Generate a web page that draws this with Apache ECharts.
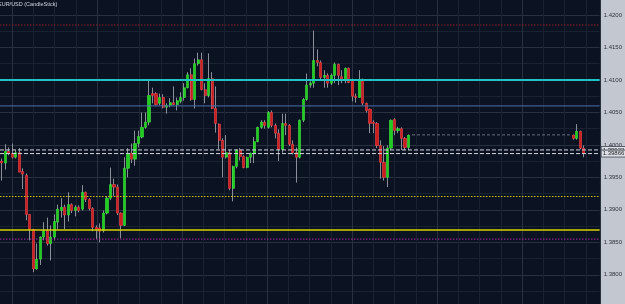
<!DOCTYPE html>
<html>
<head>
<meta charset="utf-8">
<script src="https://cdn.jsdelivr.net/npm/echarts@6/dist/echarts.min.js"></script>
<style>
  html, body { margin: 0; padding: 0; background: #0b1222; }
  #chart { width: 625px; height: 304px; }
</style>
</head>
<body>
<div id="chart"></div>
<script>
// EUR/USD bars, [open, close, low, high]
var barsBefore = [
  [1.3975,1.3972,1.3945,1.3979],[1.3972,1.3990,1.3962,1.4001],[1.3990,1.3987,1.3984,1.3996],[1.3987,1.3981,1.3979,1.4002],
  [1.3981,1.3988,1.3979,1.3992],[1.3988,1.3958,1.3958,1.3995],[1.3959,1.3955,1.3932,1.3964],[1.3953,1.3893,1.3884,1.3956],
  [1.3893,1.3870,1.3853,1.3893],[1.3870,1.3809,1.3804,1.3870],[1.3809,1.3824,1.3808,1.3848],[1.3824,1.3858,1.3815,1.3859],
  [1.3858,1.3868,1.3853,1.3881],[1.3868,1.3848,1.3845,1.3888],[1.3848,1.3858,1.3822,1.3876],[1.3858,1.3882,1.3853,1.3893],
  [1.3881,1.3901,1.3870,1.3908],[1.3899,1.3904,1.3888,1.3918],[1.3904,1.3892,1.3870,1.3908],[1.3892,1.3908,1.3882,1.3927],
  [1.3908,1.3899,1.3895,1.3910],[1.3899,1.3904,1.3890,1.3907],[1.3904,1.3899,1.3896,1.3907],[1.3901,1.3927,1.3899,1.3938],
  [1.3927,1.3916,1.3912,1.3928],[1.3916,1.3902,1.3899,1.3918],[1.3902,1.3873,1.3867,1.3904],[1.3873,1.3870,1.3855,1.3876],
  [1.3872,1.3867,1.3850,1.3879],[1.3868,1.3895,1.3865,1.3899],[1.3895,1.3918,1.3893,1.3921],[1.3918,1.3939,1.3915,1.3965],
  [1.3939,1.3935,1.3921,1.3948],[1.3935,1.3895,1.3892,1.3939],[1.3895,1.3876,1.3856,1.3896],[1.3876,1.3964,1.3875,1.3981],
  [1.3964,1.3987,1.3950,1.3995],[1.3987,1.3978,1.3972,1.4002],[1.3978,1.4002,1.3968,1.4022],[1.4002,1.4013,1.3996,1.4022],
  [1.4012,1.4027,1.4010,1.4050],[1.4027,1.4035,1.4025,1.4050],[1.4035,1.4076,1.4030,1.4099],[1.4079,1.4076,1.4064,1.4088],
  [1.4079,1.4062,1.4061,1.4081],[1.4064,1.4073,1.4061,1.4079],[1.4073,1.4058,1.4056,1.4078],[1.4058,1.4061,1.4048,1.4064],
  [1.4061,1.4065,1.4058,1.4072],[1.4065,1.4062,1.4061,1.4090],[1.4062,1.4068,1.4053,1.4073],[1.4067,1.4073,1.4064,1.4081],
  [1.4073,1.4088,1.4068,1.4095],[1.4088,1.4108,1.4087,1.4112],[1.4108,1.4070,1.4068,1.4118],[1.4070,1.4125,1.4056,1.4133],
  [1.4125,1.4131,1.4122,1.4142],[1.4131,1.4085,1.4084,1.4142],[1.4085,1.4076,1.4064,1.4095],[1.4076,1.4102,1.4073,1.4141],
  [1.4102,1.4056,1.4055,1.4112],[1.4056,1.4033,1.4019,1.4090],[1.4032,1.4007,1.3993,1.4033],[1.4007,1.3981,1.3950,1.4010],
  [1.3981,1.3988,1.3979,1.4015],[1.3988,1.3933,1.3930,1.3992],[1.3933,1.3967,1.3913,1.3968],[1.3967,1.3992,1.3964,1.3993],
  [1.3992,1.3982,1.3976,1.3995],[1.3982,1.3965,1.3964,1.3984],[1.3965,1.3981,1.3964,1.3982],[1.3981,1.3987,1.3972,1.3988],
  [1.3987,1.4005,1.3972,1.4012],[1.4005,1.4027,1.4004,1.4028],[1.4027,1.4035,1.4025,1.4038],[1.4035,1.4030,1.4025,1.4038],
  [1.4027,1.4050,1.4025,1.4052],[1.4050,1.4030,1.4027,1.4053],[1.4030,1.4018,1.4010,1.4033],[1.4018,1.3993,1.3975,1.4024],
  [1.3993,1.4033,1.3988,1.4048],[1.4033,1.4030,1.4015,1.4048],[1.4030,1.4001,1.3998,1.4032],[1.4001,1.3988,1.3985,1.4007],
  [1.3988,1.3981,1.3942,1.3996],[1.3981,1.4038,1.3979,1.4039],[1.4038,1.4070,1.4035,1.4072],[1.4070,1.4092,1.4068,1.4110],
  [1.4092,1.4095,1.4088,1.4098],[1.4095,1.4130,1.4088,1.4176],[1.4130,1.4127,1.4121,1.4147],[1.4127,1.4104,1.4099,1.4130],
  [1.4104,1.4107,1.4088,1.4115],[1.4107,1.4095,1.4088,1.4110],[1.4095,1.4107,1.4092,1.4110],[1.4107,1.4124,1.4095,1.4127],
  [1.4124,1.4107,1.4092,1.4125],[1.4105,1.4101,1.4095,1.4115],[1.4101,1.4118,1.4095,1.4119],[1.4118,1.4096,1.4095,1.4119],
  [1.4099,1.4075,1.4067,1.4102],[1.4075,1.4073,1.4065,1.4079],[1.4073,1.4101,1.4073,1.4115],[1.4101,1.4064,1.4061,1.4102],
  [1.4064,1.4053,1.4050,1.4065],[1.4055,1.4033,1.4018,1.4056],[1.4035,1.4033,1.4018,1.4038],[1.4033,1.3999,1.3995,1.4035],
  [1.3999,1.3973,1.3948,1.4007],[1.3973,1.3950,1.3945,1.3998],[1.3950,1.3995,1.3935,1.3999],[1.3995,1.4038,1.3992,1.4039],
  [1.4039,1.4022,1.4015,1.4041],[1.4022,1.4025,1.4018,1.4028],[1.4025,1.4010,1.3992,1.4027],[1.4010,1.3996,1.3992,1.4012],
  [1.3996,1.4015,1.3992,1.4016]
];
var gapBars = 46;
var barsAfter = [
  [1.4015,1.4010,1.4008,1.4016],[1.4010,1.4021,1.4008,1.4032],[1.4021,1.3995,1.3993,1.4022],[1.3995,1.3987,1.3981,1.3999]
];
var slotCount = 171;

// horizontal levels drawn across the chart
var levelValues = [1.41846, 1.4100, 1.4060, 1.39922, 1.39866, 1.39205, 1.3869, 1.38549];
var priceTags = ['1.39922', '1.39866'];
var gapLevel = 1.40154;
var gapFrom = 117, gapTo = 162;

// price scale
var priceMin = 1.3775, priceMax = 1.42, priceStep = 0.0025;

var levelStyles = [
  { color: '#8a1e22', width: 1, type: [1.5, 1.5] },
  { color: '#1fc4c4', width: 2, type: 'solid' },
  { color: '#4d6fae', width: 1, type: 'solid' },
  { color: '#d4d7e0', width: 1, type: [4, 2] },
  { color: '#d4d7e0', width: 1, type: [4, 2] },
  { color: '#c8c400', width: 1, type: [1.5, 1.5] },
  { color: '#d6d200', width: 1.5, type: 'solid' },
  { color: '#a02aa0', width: 1, type: [1.5, 1.5] }
];

var cats = [];
for (var i = 0; i < slotCount; i++) cats.push(String(i));
var empty = [];
for (var g = 0; g < gapBars; g++) empty.push(['-', '-', '-', '-']);
var bars = barsBefore.concat(empty, barsAfter);
var bodies = bars.map(function (b) {
  if (b[0] === '-') return b;
  return [b[0], b[1], Math.min(b[0], b[1]), Math.max(b[0], b[1])];
});

// one series per level: a flat line over the full width (edge-to-edge axis)
var edgeCats = ['l', 'r'];
var levelSeries = levelValues.map(function (v, k) {
  var s = {
    name: 'level' + k, type: 'line', xAxisIndex: 2, data: [v, v], symbol: 'none', silent: true,
    lineStyle: levelStyles[k], z: 5
  };
  var tag = priceTags.indexOf(v.toFixed(5));
  if (tag >= 0) {
    s.endLabel = {
      show: true, distance: 2, formatter: priceTags[tag],
      fontSize: 6, fontFamily: 'Liberation Sans', color: '#1a1d24',
      backgroundColor: '#dde0e6', borderColor: '#50555f', borderWidth: 1, padding: [0, 1]
    };
  }
  return s;
});

var gapLine = cats.map(function (c, idx) { return idx >= gapFrom && idx <= gapTo ? gapLevel : '-'; });

var chart = echarts.init(document.getElementById('chart'));
chart.setOption({
  backgroundColor: '#0b1222',
  animation: false,
  title: {
    text: 'EUR/USD (CandleStick)', left: -2, top: 1, padding: 0,
    textStyle: { fontSize: 5.5, fontWeight: 'normal', color: '#d4d8e0', fontFamily: 'Liberation Sans' }
  },
  graphic: [{
    type: 'rect', right: 0, top: 0, z: -10,
    shape: { width: 25, height: 304 },
    style: { fill: '#c3c7cf' }
  }],
  grid: [
    { left: 0, right: 25, top: 15, bottom: 13 },
    { left: 12, right: 25, top: 0, bottom: 0 }
  ],
  xAxis: [
    { type: 'category', data: cats, gridIndex: 0, show: false, boundaryGap: true },
    {
      type: 'value', gridIndex: 1, min: 0, max: 588, interval: 21.25,
      axisLine: { show: false }, axisTick: { show: false }, axisLabel: { show: false },
      splitLine: { show: true, lineStyle: { color: ['#29313f', '#1a2130', '#1a2130', '#1a2130'], width: 1 } }
    },
    { type: 'category', data: edgeCats, gridIndex: 0, show: false, boundaryGap: false }
  ],
  yAxis: [
    {
      type: 'value', gridIndex: 0, position: 'right',
      min: priceMin, max: priceMax, interval: priceStep,
      axisLine: { show: false }, axisTick: { show: false },
      axisLabel: {
        margin: 4, fontSize: 6, color: '#30343c', fontFamily: 'Liberation Sans',
        formatter: function (v) { return Math.round(v * 10000) % 50 === 0 ? v.toFixed(4) : ''; }
      },
      splitLine: { lineStyle: { color: ['#1a2130', '#29313f'], width: 1 } }
    },
    { type: 'value', gridIndex: 1, show: false, splitLine: { show: false } }
  ],
  series: [
    {
      name: 'wicks', type: 'candlestick', data: bars, barWidth: 1,
      itemStyle: { color: '#8a8f99', color0: '#8a8f99', borderColor: '#8a8f99', borderColor0: '#8a8f99', borderWidth: 1 },
      z: 2
    },
    {
      name: 'bodies', type: 'candlestick', data: bodies, barWidth: 2.6,
      itemStyle: { color: '#20cc20', color0: '#cc1c1c', borderColor: '#40e640', borderColor0: '#ec4a50', borderWidth: 0.6 },
      z: 3
    },
    {
      name: 'gap', type: 'line', data: gapLine, symbol: 'none', silent: true, z: 4,
      lineStyle: { color: '#6c7280', width: 1, type: [3, 2] }
    }
  ].concat(levelSeries)
});
</script>
</body>
</html>
